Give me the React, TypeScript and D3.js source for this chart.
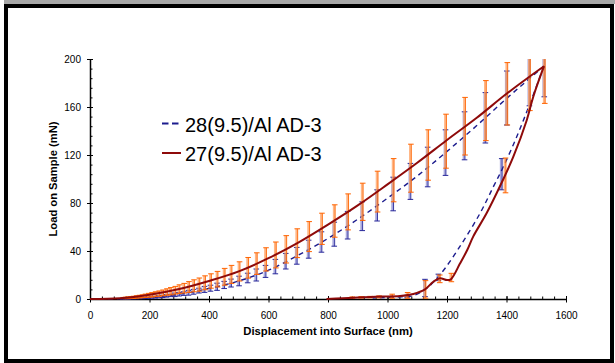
import React, { useEffect, useRef } from 'react';
import * as d3 from 'd3';

// loading curves (nm, mN)
const loadX = [0, 100, 200, 300, 400, 500, 600, 700, 800, 900, 1000, 1100, 1200, 1300, 1400, 1526];
const load28 = [0, 0.2, 1.3, 4, 8.8, 15, 24, 36.5, 50.5, 66.5, 84, 102.5, 123, 144.5, 167, 194];
const load27 = [0, 0.7, 3.5, 8.3, 15, 23, 34, 47, 62, 78, 95.5, 113.5, 132.5, 151, 171, 194];

// unloading curves
const unload28X = [1526, 1479, 1434, 1389, 1356, 1311, 1244, 1176, 1132, 1087, 1042, 990, 950];
const unload28 = [194, 163, 135, 110, 93.6, 71.4, 44, 20, 9, 2.8, 1.8, 1.2, 0.8];
const unload27X = [1526, 1490, 1468, 1423, 1382, 1333, 1288, 1268, 1244, 1213, 1200, 1176, 1154, 1126, 1087, 1042, 975, 900, 850, 795];
const unload27 = [194, 168.6, 149, 118.6, 96, 71.4, 52, 40.8, 29.7, 16.4, 15.8, 17.2, 14.4, 8, 4.2, 2.5, 2, 1.2, 0.6, 0];

// error bars on the loading segment (shared displacement positions)
const errX = [1527, 1477, 1401, 1329, 1259, 1195, 1135, 1077, 1019, 965, 915, 866, 821, 778, 735, 695, 658, 623, 590, 559, 530, 501, 474, 451, 427, 405, 385, 366, 348, 331, 315, 299, 285, 270, 257, 244, 231, 219, 207, 196, 185, 175, 165, 155, 145, 136, 127, 118, 110];
const mean27 = [194, 184, 171, 157, 144, 131.5, 120, 109, 99, 89.5, 81, 72.6, 65, 58.5, 52, 46.5, 41.4, 36.7, 33, 29.5, 26, 23, 20.5, 18.5, 16.5, 15, 13.5, 12, 11, 10, 9, 8.2, 7.3, 6.5, 5.8, 5.1, 4.5, 4, 3.5, 3.1, 2.7, 2.3, 2, 1.7, 1.4, 1.2, 1, 0.9, 0.8];
const sd27 = [31, 27, 26, 25, 24, 22.5, 21, 20, 18, 17, 15.5, 15, 13.5, 13, 12.5, 12, 11.4, 10.8, 9.7, 9, 8.6, 8, 7.5, 7, 6.5, 6, 5.8, 5.5, 5, 4.5, 4, 3.6, 3.2, 3, 2.7, 2.4, 2.2, 2, 1.8, 1.6, 1.4, 1.2, 1.1, 1, 0.9, 0.8, 0.7, 0.6, 0.5];
const mean28 = [194, 182, 167.5, 151, 136, 122, 110, 98, 87.5, 78, 69, 61.5, 54, 47.5, 41.5, 36, 31.5, 27, 23, 20, 17.5, 15, 13.3, 11.7, 10.2, 9, 8, 7, 6, 5.2, 4.5, 4, 3.5, 3, 2.6, 2.2, 1.9, 1.6, 1.4, 1.2, 1, 0.8, 0.7, 0.6, 0.5, 0.4, 0.3, 0.3, 0.2];
const sd28 = [25.5, 21, 22.5, 21, 20, 19, 16.5, 15, 14, 13, 12, 11.5, 10, 8.5, 7.5, 7, 6.5, 6, 5, 5, 4, 4, 3.3, 3, 3, 2.5, 2.5, 2, 2, 2, 1.5, 1.5, 1.5, 1, 1, 1, 0.9, 0.8, 0.7, 0.6, 0.5, 0.5, 0.4, 0.4, 0.3, 0.3, 0.3, 0.2, 0.2];

// error bars on the unloading segment
const unlErrX27 = [1395, 1213, 1174, 1126, 1066, 1014, 970, 940, 910, 880];
const unlMean27 = [103, 17.9, 16.8, 8, 3, 2.3, 1.8, 1.6, 1.4, 1.2];
const unlSd27 = [14.5, 3.5, 3.2, 7.3, 2.4, 1.7, 0.8, 0.6, 0.6, 0.5];
const unlErrX28 = [1384, 1171, 1126, 1066];
const unlMean28 = [104, 18, 9.2, 2];
const unlSd28 = [13, 2.7, 7.2, 1];

const xTicks = [0, 200, 400, 600, 800, 1000, 1200, 1400, 1600];
const yTicks = [0, 40, 80, 120, 160, 200];
const legendLabels = ['28(9.5)/Al AD-3', '27(9.5)/Al AD-3'];

const FONT = 'Liberation Sans, Arial, sans-serif';
const RED = '#8e0a0a';
const BLUE = '#1c1c8e';

const App: React.FC = () => {
  const ref = useRef<SVGSVGElement | null>(null);

  useEffect(() => {
    const svg = d3.select(ref.current);
    svg.selectAll('*').remove();

    const x = d3.scaleLinear().domain([0, 1600]).range([90, 566]);
    const y = d3.scaleLinear().domain([0, 200]).range([299, 59]);

    // frame
    svg.append('rect').attr('x', 4).attr('y', 0).attr('width', 611).attr('height', 4).attr('fill', '#a8a8a8');
    svg.append('rect')
      .attr('x', 6).attr('y', 6).attr('width', 606).attr('height', 355)
      .attr('fill', 'none').attr('stroke', '#000').attr('stroke-width', 4);

    svg.append('defs').append('clipPath').attr('id', 'plot')
      .append('rect').attr('x', 86).attr('y', 59).attr('width', 490).attr('height', 244);

    // axes
    const styleAxis = (g: d3.Selection<SVGGElement, unknown, null, undefined>) => {
      g.selectAll('line').attr('stroke', '#000').attr('stroke-width', 1);
      g.selectAll('path').attr('stroke', '#000').attr('stroke-width', 1.5);
      g.selectAll('text').attr('fill', '#000').style('font-family', FONT).style('font-size', '10px');
    };
    const plain = (d: d3.NumberValue) => String(d);

    const gx = svg.append('g').attr('transform', `translate(0,${y(0)})`);
    gx.append('g').call(d3.axisTop(x).tickValues(d3.range(0, 1601, 40)).tickSize(2.5).tickFormat(() => '').tickSizeOuter(0))
      .call(g => g.select('.domain').remove()).call(styleAxis);
    gx.append('g').call(d3.axisTop(x).tickValues(xTicks).tickSize(3).tickFormat(() => '').tickSizeOuter(0))
      .call(g => g.select('.domain').remove()).call(styleAxis);
    gx.append('g').call(d3.axisBottom(x).tickValues(xTicks).tickSize(3.5).tickPadding(9).tickFormat(plain).tickSizeOuter(0))
      .call(styleAxis);

    const gy = svg.append('g').attr('transform', `translate(${x(0)},0)`);
    gy.append('g').call(d3.axisRight(y).tickValues(d3.range(0, 201, 8)).tickSize(2.5).tickFormat(() => '').tickSizeOuter(0))
      .call(g => g.select('.domain').remove()).call(styleAxis);
    gy.append('g').call(d3.axisRight(y).tickValues(yTicks).tickSize(3).tickFormat(() => '').tickSizeOuter(0))
      .call(g => g.select('.domain').remove()).call(styleAxis);
    gy.append('g').call(d3.axisLeft(y).tickValues(yTicks).tickSize(3).tickPadding(6).tickFormat(plain).tickSizeOuter(0))
      .call(styleAxis);

    // axis titles
    svg.append('text')
      .attr('x', 328).attr('y', 334.5)
      .attr('text-anchor', 'middle')
      .style('font-family', FONT).style('font-size', '11.3px').style('font-weight', 'bold')
      .text('Displacement into Surface (nm)');
    svg.append('text')
      .attr('transform', `translate(57,179) rotate(-90)`)
      .attr('text-anchor', 'middle')
      .style('font-family', FONT).style('font-size', '11.2px').style('font-weight', 'bold')
      .text('Load on Sample (mN)');

    const plot = svg.append('g').attr('clip-path', 'url(#plot)');

    const line = d3.line<[number, number]>()
      .x(d => x(d[0])).y(d => y(d[1]))
      .curve(d3.curveMonotoneX);
    const lineUn = d3.line<[number, number]>()
      .x(d => x(d[0])).y(d => y(d[1]))
      .curve(d3.curveCatmullRom.alpha(0.5));

    const drawBars = (xs: number[], ms: number[], sds: number[], light: string, dark: string, off: number) => {
      const g = plot.append('g');
      xs.forEach((xv, i) => {
        const cx = x(xv) + off;
        const lo = y(ms[i] - sds[i]);
        const hi = y(ms[i] + sds[i]);
        g.append('line').attr('x1', cx - 0.8).attr('x2', cx - 0.8).attr('y1', lo).attr('y2', hi)
          .attr('stroke', light).attr('stroke-width', 2.2).attr('opacity', 0.75);
        g.append('line').attr('x1', cx + 0.4).attr('x2', cx + 0.4).attr('y1', lo).attr('y2', hi)
          .attr('stroke', dark).attr('stroke-width', 0.9);
        [lo, hi].forEach(v => {
          g.append('line').attr('x1', cx - 2.8).attr('x2', cx + 2.8).attr('y1', v).attr('y2', v)
            .attr('stroke', dark).attr('stroke-width', 1);
        });
      });
    };

    // series 28 (blue dashed)
    drawBars(errX, mean28, sd28, '#8a8ad2', '#28289a', 0);
    drawBars(unlErrX28, unlMean28, unlSd28, '#8a8ad2', '#28289a', 0);
    plot.append('path')
      .datum(loadX.map((v, i) => [v, load28[i]] as [number, number]))
      .attr('d', line).attr('fill', 'none').attr('stroke', BLUE)
      .attr('stroke-width', 1.4).attr('stroke-dasharray', '5,4');
    plot.append('path')
      .datum(unload28X.map((v, i) => [v, unload28[i]] as [number, number]))
      .attr('d', lineUn).attr('fill', 'none').attr('stroke', BLUE)
      .attr('stroke-width', 1.4).attr('stroke-dasharray', '5,4');

    // series 27 (red solid)
    drawBars(errX, mean27, sd27, '#ffa060', '#ff6400', 0.5);
    drawBars(unlErrX27, unlMean27, unlSd27, '#ffa060', '#ff6400', 0.5);
    plot.append('path')
      .datum(loadX.map((v, i) => [v, load27[i]] as [number, number]))
      .attr('d', line).attr('fill', 'none').attr('stroke', RED).attr('stroke-width', 2);
    plot.append('path')
      .datum(unload27X.map((v, i) => [v, unload27[i]] as [number, number]))
      .attr('d', lineUn).attr('fill', 'none').attr('stroke', RED).attr('stroke-width', 2);

    // legend
    const leg = svg.append('g');
    leg.append('line').attr('x1', 162).attr('x2', 181).attr('y1', 123.5).attr('y2', 123.5)
      .attr('stroke', BLUE).attr('stroke-width', 2).attr('stroke-dasharray', '6.5,3.5');
    leg.append('line').attr('x1', 162).attr('x2', 181).attr('y1', 153).attr('y2', 153)
      .attr('stroke', RED).attr('stroke-width', 2);
    legendLabels.forEach((t, i) => {
      leg.append('text')
        .attr('x', 185).attr('y', 131.5 + i * 29)
        .style('font-family', FONT).style('font-size', '20px')
        .text(t);
    });
  }, []);

  return (
    <svg
      ref={ref}
      width={615}
      height={363}
      style={{ position: 'absolute', left: 0, top: 0, background: '#fff' }}
    />
  );
};

export default App;
